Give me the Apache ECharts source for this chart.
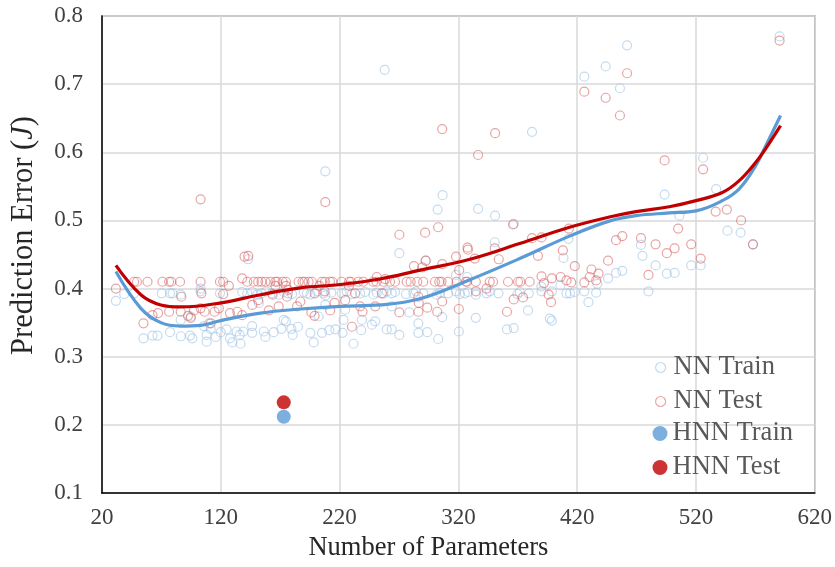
<!DOCTYPE html>
<html><head><meta charset="utf-8">
<script src="https://cdn.jsdelivr.net/npm/echarts@6/dist/echarts.min.js"></script>
<style>html,body{margin:0;padding:0;background:#fff}#c{width:835px;height:567px}</style>
</head><body><div id="c"></div>
<script>
const xTicks = [20, 120, 220, 320, 420, 520, 620];
const yTicks = [0.1, 0.2, 0.3, 0.4, 0.5, 0.6, 0.7, 0.8];

const nnTrain = [
[31.7,0.382],[38.7,0.392],[47,0.393],[70.3,0.393],[77.3,0.393],[79.4,0.393],[86.3,0.391],[103,0.396],[103,0.4],[119.3,0.393],[138,0.395],
[54.9,0.327],[62.5,0.331],[66.7,0.331],[77.3,0.336],[86.3,0.33],[94.1,0.331],[96.1,0.327],[108.1,0.332],[108.1,0.322],[115.7,0.329],[119.9,0.336],[127.7,0.327],[129.7,0.321],[136,0.332],
[86.3,0.354],[94.7,0.359],[105.8,0.345],[110,0.349],[111.5,0.341],[124.9,0.34],[133.3,0.337],[138.9,0.337],[136.6,0.319],
[143,0.443],
[142.3,0.393],[146.4,0.395],[150.7,0.391],[154.3,0.393],[158.2,0.396],[163.2,0.393],[168.8,0.391],[173,0.395],[176.6,0.393],[180,0.392],[189.8,0.395],[192.5,0.393],[195.4,0.391],[201,0.396],[206.5,0.393],[208,0.39],[213,0.394],[221.8,0.393],[226,0.396],[230.4,0.392],[237.3,0.393],[241.5,0.395],[248.5,0.391],[251.3,0.394],[256.9,0.393],[259.7,0.396],
[146.4,0.345],[146.4,0.335],[156.2,0.337],[157.6,0.329],[164.6,0.336],[171,0.341],[174.9,0.352],[179.4,0.341],[185,0.344],[180.5,0.332],[195.4,0.335],[198.2,0.321],[205.2,0.335],[211.3,0.339],[216.4,0.34],[222.5,0.335],[223.3,0.354],[231.7,0.319],[238.8,0.354],[238.2,0.339],[247.2,0.347],[250,0.352],[259.7,0.34],[173,0.354],
[208,0.376],[224.7,0.369],[152,0.379],[202.4,0.359],
[208,0.572],[258,0.721],
[263.9,0.374],[263.9,0.34],[270.3,0.332],[278.7,0.365],[286.3,0.349],[286.3,0.335],[293.8,0.336],[303,0.326],[306.4,0.358],[320.4,0.337],[334.7,0.357],[360.9,0.34],[366.6,0.342],[378.6,0.368],
[270.3,0.452],[292.5,0.441],[327.4,0.417],[318,0.42],[350.6,0.468],[366.6,0.495],
[263.9,0.393],[266.7,0.395],[275.9,0.392],[282.1,0.393],[284.3,0.396],[290.4,0.393],[301.7,0.391],[304.5,0.394],[311.4,0.393],[317.9,0.396],[321.2,0.392],[325.4,0.393],[328.2,0.395],[334.7,0.391],[343.7,0.393],[346.4,0.396],[353.7,0.393],[369.7,0.392],[371.7,0.395],[379.3,0.393],
[306.7,0.537],[302.5,0.516],[336.6,0.517],[350.9,0.507],[382,0.63],[412.7,0.473],
[389.8,0.403],[390,0.396],[398.7,0.396],[406,0.405],[411,0.393],[414,0.393],[418,0.395],[426,0.396],[436,0.394],[437,0.407],[429.5,0.38],[397,0.356],[398.7,0.353],[408.5,0.445],[446,0.415],[452.7,0.423],[458,0.426],[473.7,0.464],[475,0.448],[480,0.396],[486,0.434],[495.5,0.422],[502,0.423],
[426,0.711],[444,0.726],[462,0.757],[456,0.694],[493.6,0.538],[526,0.592],[537,0.546],[506,0.507],[546.5,0.485],[557.6,0.482],[516,0.434],[524,0.434],[568,0.465],[590.4,0.77]
];

const nnTest = [
[31.7,0.4],[47,0.41],[49.4,0.41],[58.3,0.41],[70.9,0.41],[76.5,0.41],[78.4,0.41],[85.7,0.41],[103,0.41],[119.3,0.41],[122,0.41],[126.8,0.404],[138,0.415],[140,0.447],
[86.8,0.388],[103.7,0.393],[122,0.392],
[54.9,0.349],[62.5,0.361],[67.2,0.364],[76.5,0.366],[86.3,0.366],[94.7,0.357],[97.4,0.368],[106.4,0.366],[114.8,0.366],[118.4,0.371],[127.7,0.364],[133.9,0.366],[111.5,0.349],[138,0.361],[103,0.371],[92.4,0.36],
[103,0.531],
[143.1,0.448],
[142.3,0.41],[147.8,0.41],[151.5,0.41],[154.3,0.41],[157.6,0.41],[161.8,0.41],[166,0.41],[167.4,0.41],[172.1,0.41],[174.9,0.41],[185.5,0.41],[188.8,0.41],[190.5,0.41],[193.9,0.41],[196.7,0.41],[205.1,0.41],[207.7,0.41],[211.9,0.41],[213.9,0.41],[221.8,0.41],[227.9,0.41],[229.6,0.41],[235.7,0.41],[239.9,0.41],[248.3,0.41],[251.1,0.41],[256.9,0.41],
[151.5,0.383],[163.7,0.391],[175.8,0.388],[176.6,0.398],[187,0.381],[184.2,0.374],[199,0.393],[207.4,0.396],[215.8,0.379],[212.1,0.368],[196.2,0.365],[199,0.36],[168.7,0.374],[160.4,0.368],[146.5,0.376],[224.7,0.383],[233.1,0.393],[237.3,0.374],[239.3,0.366],[230.4,0.344],[250,0.374],[255.6,0.393],[258.3,0.414],[251.3,0.417],
[166,0.404],[174.9,0.404],[203,0.404],[227.9,0.404],
[208,0.527],
[270.3,0.479],[292,0.482],[303,0.49],[366,0.494],[350.6,0.459],[328,0.457],[354,0.443],[292.5,0.441],[282.6,0.433],[289.6,0.431],[306.4,0.436],[318,0.447],[320.7,0.427],[333.8,0.444],
[262.5,0.41],[266.7,0.41],[276.5,0.41],[279.8,0.41],[285.4,0.41],[290.4,0.41],[300.3,0.41],[303.9,0.41],[305.8,0.41],[311.4,0.41],[318.5,0.41],[326.3,0.41],[327.4,0.41],[334.7,0.41],[346.4,0.41],[349.2,0.41],[361.8,0.41],[370.2,0.41],[372.2,0.41],[380,0.41],
[286.3,0.388],[286.7,0.379],[306.4,0.381],[270.3,0.365],[286.3,0.366],[293.8,0.372],[302.2,0.366],[320.4,0.37],[334.7,0.396],[343.6,0.4],[360.9,0.366],[366.6,0.384],[374.4,0.387],
[306.4,0.634],[350.9,0.628],[336.6,0.596],[327.7,0.46],[382,0.474],
[387,0.448],[390,0.475],[408,0.456],[418,0.433],[413,0.488],[452.7,0.471],[458,0.477],[473.7,0.474],[486,0.465],[495.5,0.452],[502,0.459],[505,0.488],[480,0.42],[446,0.441],[432,0.428],[438,0.422],[430.5,0.417],[436,0.412],[426,0.409],[390,0.418],[392,0.408],[398.7,0.415],[406,0.417],[411,0.412],[415,0.409],[396,0.391],[398,0.38],
[426,0.689],[444,0.68],[462,0.716],[456,0.654],[493.6,0.588],[526,0.575],[536.6,0.513],[546,0.516],[558,0.5],[568,0.465],[516,0.465],[524,0.444],[590.4,0.764]
];

const hnnTrain = [[173,0.212]];
const hnnTest = [[173,0.233]];

const trendTrain = [[31.7,0.425],[52.7,0.371],[69.5,0.35],[86.3,0.345],[103,0.346],[120,0.353],[153.4,0.364],[187,0.37],[220.5,0.374],[254,0.376],[287.7,0.385],[329.7,0.413],[371.6,0.444],[413.6,0.477],[447,0.499],[469.5,0.507],[497.5,0.511],[520,0.514],[542.2,0.529],[556.2,0.546],[570.2,0.58],[578.6,0.609],[591.2,0.654]];
const trendTest = [[31.7,0.434],[52.7,0.391],[69.5,0.376],[86.3,0.373],[120,0.379],[153.4,0.391],[187,0.401],[220.5,0.406],[254,0.414],[287.7,0.427],[329.7,0.443],[371.6,0.466],[413.6,0.49],[447,0.505],[469.5,0.513],[497.5,0.52],[520,0.529],[542.2,0.541],[556.2,0.558],[570.2,0.585],[578.6,0.605],[591.2,0.639]];

const FONT = '"Liberation Serif", "Times New Roman", serif';
const chart = echarts.init(document.getElementById('c'), null, {renderer: 'canvas'});
chart.setOption({
  animation: false,
  backgroundColor: '#fff',
  grid: {left: 101, right: 19, top: 16, bottom: 71, show: true, borderColor: '#7f7f7f', borderWidth: 1.5},
  xAxis: {
    type: 'value', min: xTicks[0], max: xTicks[xTicks.length - 1], interval: 100,
    axisLine: {show: true, onZero: false, lineStyle: {color: '#000', width: 1.5}},
    axisTick: {show: false},
    splitLine: {show: true, lineStyle: {color: '#d9d9d9', width: 1.5}},
    axisLabel: {color: '#404040', fontFamily: FONT, fontSize: 23, margin: 13},
    name: 'Number of Parameters', nameLocation: 'middle', nameGap: 42,
    nameTextStyle: {color: '#262626', fontFamily: FONT, fontSize: 26.5, padding: [0, 60, 0, 0]}
  },
  yAxis: {
    type: 'value', min: yTicks[0], max: yTicks[yTicks.length - 1], interval: 0.1,
    axisLine: {show: true, onZero: false, lineStyle: {color: '#000', width: 1.5}},
    axisTick: {show: false},
    splitLine: {show: true, lineStyle: {color: '#d9d9d9', width: 1.5}},
    axisLabel: {color: '#404040', fontFamily: FONT, fontSize: 23, margin: 19, formatter: v => v.toFixed(1)},
    name: 'Prediction Error ({i|J})', nameLocation: 'middle', nameGap: 63,
    nameTextStyle: {color: '#262626', fontFamily: FONT, fontSize: 30.5, padding: [0, 0, 0, 38],
      rich: {i: {fontStyle: 'italic', fontFamily: FONT, fontSize: 30.5, color: '#262626'}}}
  },
  legend: [{
    orient: 'vertical', left: 655, top: 354, padding: 0, itemWidth: 10, itemHeight: 10, itemGap: 7,
    data: [
      {name: 'NN Train', icon: 'circle', itemStyle: {color: '#fff', borderColor: '#b4d0ec', borderWidth: 1.2}},
      {name: 'NN Test', icon: 'circle', itemStyle: {color: '#fff', borderColor: '#e89090', borderWidth: 1.2}}
    ],
    textStyle: {color: '#595959', fontFamily: FONT, fontSize: 26.5, lineHeight: 26, padding: [0, 0, 0, 3]}
  }, {
    orient: 'vertical', left: 652.5, top: 420, padding: 0, itemWidth: 15, itemHeight: 15, itemGap: 7,
    data: [
      {name: 'HNN Train', icon: 'circle'},
      {name: 'HNN Test', icon: 'circle'}
    ],
    textStyle: {color: '#595959', fontFamily: FONT, fontSize: 26.5, lineHeight: 26}
  }],
  series: [
    {name: 'NN Train', type: 'scatter', data: nnTrain, symbol: 'circle', symbolSize: 9, z: 2,
     itemStyle: {color: 'rgba(255,255,255,0)', borderColor: 'rgba(157,195,230,0.75)', borderWidth: 1.2}},
    {name: 'NN Test', type: 'scatter', data: nnTest, symbol: 'circle', symbolSize: 9, z: 3,
     itemStyle: {color: 'rgba(255,255,255,0)', borderColor: 'rgba(214,92,92,0.7)', borderWidth: 1.2}},
    {name: 'trendTrain', type: 'line', data: trendTrain, smooth: 0.4, showSymbol: false, z: 4,
     lineStyle: {color: '#5b9bd5', width: 3.2}, itemStyle: {color: '#5b9bd5'}},
    {name: 'trendTest', type: 'line', data: trendTest, smooth: 0.4, showSymbol: false, z: 5,
     lineStyle: {color: '#c00000', width: 3.2}, itemStyle: {color: '#c00000'}},
    {name: 'HNN Train', type: 'scatter', data: hnnTrain, symbol: 'circle', symbolSize: 14, z: 6, itemStyle: {color: '#5b9bd5'}},
    {name: 'HNN Test', type: 'scatter', data: hnnTest, symbol: 'circle', symbolSize: 14, z: 6, itemStyle: {color: '#c00000'}}
  ]
});
</script></body></html>
